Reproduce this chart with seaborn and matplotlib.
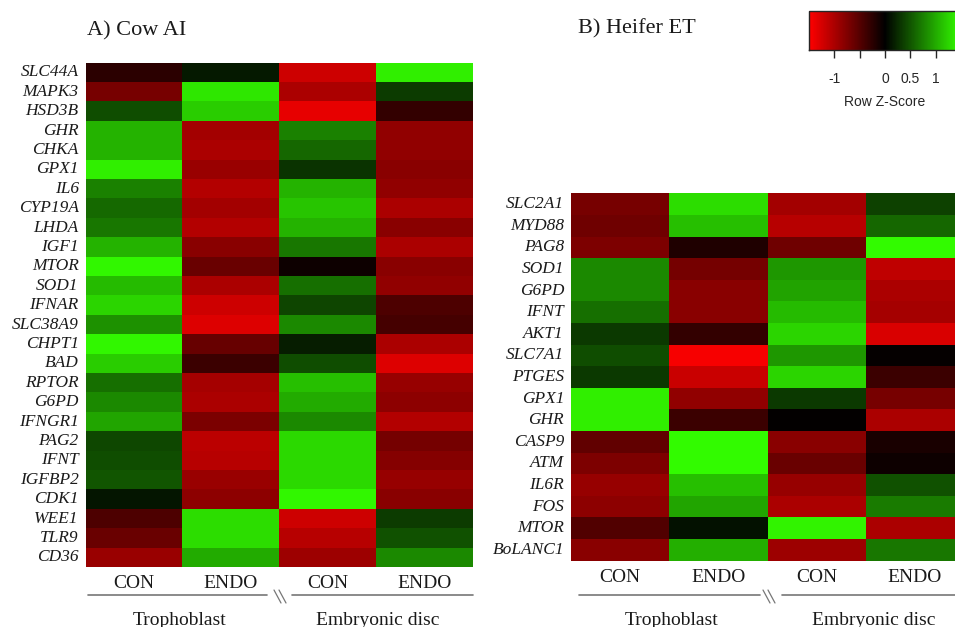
import numpy as np
import matplotlib
matplotlib.use("Agg")
import matplotlib.pyplot as plt
from matplotlib.colors import LinearSegmentedColormap, Normalize
from matplotlib.cm import ScalarMappable
from matplotlib.lines import Line2D
import seaborn as sns

# groups / columns
col_labels = ["CON", "ENDO", "CON", "ENDO"]
tissues = ["Trophoblast", "Embryonic disc"]

# A) Cow AI - row z-scores (Tropho CON, Tropho ENDO, Embryo CON, Embryo ENDO)
genes_a = ["SLC44A", "MAPK3", "HSD3B", "GHR", "CHKA", "GPX1", "IL6", "CYP19A",
           "LHDA", "IGF1", "MTOR", "SOD1", "IFNAR", "SLC38A9", "CHPT1", "BAD",
           "RPTOR", "G6PD", "IFNGR1", "PAG2", "IFNT", "IGFBP2", "CDK1", "WEE1",
           "TLR9", "CD36"]
z_a = [
    [-0.25, 0.15, -1.20, 1.40],
    [-0.70, 1.35, -1.00, 0.35],
    [0.45, 1.20, -1.35, -0.30],
    [1.05, -0.95, 0.75, -0.85],
    [1.05, -1.00, 0.60, -0.85],
    [1.40, -0.90, 0.30, -0.80],
    [0.75, -1.05, 1.05, -0.85],
    [0.62, -0.95, 1.15, -1.00],
    [0.70, -1.05, 1.05, -0.80],
    [1.05, -0.80, 0.70, -1.00],
    [1.45, -0.62, -0.08, -0.80],
    [1.10, -1.00, 0.65, -0.85],
    [1.25, -1.20, 0.40, -0.45],
    [0.85, -1.30, 0.80, -0.40],
    [1.45, -0.60, 0.17, -1.00],
    [1.20, -0.35, 0.45, -1.30],
    [0.65, -0.97, 1.12, -0.88],
    [0.80, -1.00, 1.00, -0.83],
    [0.97, -0.72, 0.80, -1.05],
    [0.42, -1.10, 1.27, -0.68],
    [0.45, -1.07, 1.27, -0.78],
    [0.50, -0.90, 1.27, -0.88],
    [0.12, -0.83, 1.45, -0.80],
    [-0.45, 1.30, -1.20, 0.35],
    [-0.62, 1.30, -1.07, 0.47],
    [-0.90, 1.00, -0.92, 0.80],
]

# B) Heifer ET
genes_b = ["SLC2A1", "MYD88", "PAG8", "SOD1", "G6PD", "IFNT", "AKT1", "SLC7A1",
           "PTGES", "GPX1", "GHR", "CASP9", "ATM", "IL6R", "FOS", "MTOR", "BoLANC1"]
z_b = [
    [-0.70, 1.30, -0.95, 0.38],
    [-0.65, 1.12, -1.07, 0.60],
    [-0.73, -0.18, -0.65, 1.47],
    [0.80, -0.68, 0.88, -1.12],
    [0.80, -0.80, 0.95, -1.00],
    [0.65, -0.80, 1.10, -0.97],
    [0.33, -0.30, 1.25, -1.27],
    [0.45, -1.45, 0.88, -0.03],
    [0.33, -1.18, 1.25, -0.35],
    [1.40, -0.85, 0.33, -0.70],
    [1.40, -0.35, -0.02, -1.00],
    [-0.57, 1.47, -0.80, -0.15],
    [-0.73, 1.47, -0.62, -0.08],
    [-0.88, 1.12, -0.88, 0.47],
    [-0.83, 0.97, -1.00, 0.72],
    [-0.47, 0.10, 1.42, -1.00],
    [-0.80, 1.03, -0.92, 0.70],
]

cbar_ticks = [-1, -0.5, 0, 0.5, 1]
cbar_ticklabels = ["-1", "", "0", "0.5", "1"]

W, H = 955, 627
cmap = LinearSegmentedColormap.from_list("rbg", ["#ff0000", "#000000", "#33ff00"])
vmin, vmax = -1.5, 1.5

sns.set_style("white")
serif = ["Liberation Serif", "DejaVu Serif"]
sans = ["Liberation Sans", "DejaVu Sans"]

fig = plt.figure(figsize=(W / 100, H / 100), dpi=100)


def box(x0, y0, x1, y1):
    # pixel box (top-left origin) -> figure fraction rect
    return [x0 / W, 1 - y1 / H, (x1 - x0) / W, (y1 - y0) / H]


def fx(x):
    return x / W


def fy(y):
    return 1 - y / H


def draw_panel(rect, data, genes, title, title_x, title_y, xs, line_y, lbl_y):
    ax = fig.add_axes(rect)
    sns.heatmap(np.array(data), ax=ax, cmap=cmap, vmin=vmin, vmax=vmax,
                cbar=False, xticklabels=col_labels, yticklabels=genes)
    ax.tick_params(axis="both", length=0)
    ax.tick_params(axis="y", pad=5)
    ax.tick_params(axis="x", pad=6)
    for t in ax.get_yticklabels():
        t.set_rotation(0)
        t.set_fontfamily(serif)
        t.set_fontstyle("italic")
        t.set_fontsize(12.5)
        t.set_color("#1a1a1a")
    for t in ax.get_xticklabels():
        t.set_rotation(0)
        t.set_fontfamily(serif)
        t.set_fontsize(14)
        t.set_color("#1a1a1a")
    fig.text(fx(title_x), fy(title_y), title, fontfamily=serif, fontsize=16,
             va="baseline", ha="left", color="#1a1a1a")
    # group lines with break mark
    l0, l1, b0, r0, r1 = xs
    for a, b in [(l0, l1), (r0, r1)]:
        fig.add_artist(Line2D([fx(a), fx(b)], [fy(line_y), fy(line_y)],
                              color="#777777", lw=1.2))
    for d in (0, 5):
        fig.add_artist(Line2D([fx(b0 + d), fx(b0 + d + 7)], [fy(line_y - 5), fy(line_y + 8)],
                              color="#777777", lw=0.9))
    fig.text(fx((l0 + l1) / 2 + 2), fy(lbl_y), tissues[0], fontfamily=serif,
             fontsize=14, ha="center", va="top", color="#1a1a1a")
    fig.text(fx((r0 + r1) / 2 - 5), fy(lbl_y), tissues[1], fontfamily=serif,
             fontsize=14, ha="center", va="top", color="#1a1a1a")
    return ax


draw_panel(box(85.7, 62.7, 472.7, 567), z_a, genes_a, "A) Cow AI", 87, 35,
           (88, 267, 274, 292, 473), 595, 612)
draw_panel(box(571, 193.3, 964, 560.7), z_b, genes_b, "B) Heifer ET", 578, 33,
           (579, 760, 763, 782, 975), 595, 612)

# colour key
cax = fig.add_axes(box(809, 11, 961, 50))
sm = ScalarMappable(norm=Normalize(vmin, vmax), cmap=cmap)
cb = fig.colorbar(sm, cax=cax, orientation="horizontal")
cb.set_ticks(cbar_ticks)
cb.set_ticklabels(cbar_ticklabels)
cb.outline.set_linewidth(1.0)
cax.tick_params(axis="x", length=6, width=1, pad=10, labelsize=10)
for t in cax.get_xticklabels():
    t.set_fontfamily(sans)
cax.set_xlabel("Row Z-Score", fontfamily=sans, fontsize=10, labelpad=6)

fig.savefig("out.png", dpi=100)
